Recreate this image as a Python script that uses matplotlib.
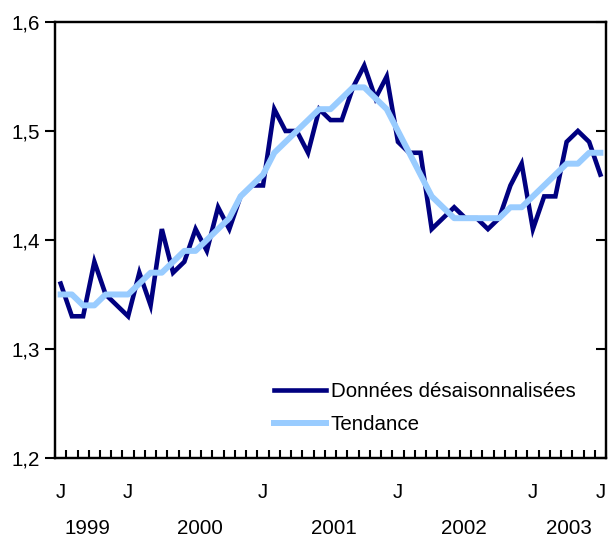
import numpy as np
import matplotlib
matplotlib.use('Agg')
import matplotlib.pyplot as plt
import matplotlib.transforms as mtransforms

plt.rcParams['font.family'] = ['Liberation Sans', 'DejaVu Sans']

# monthly data, 49 months
donnees = [1.36, 1.33, 1.33, 1.38, 1.35, 1.34, 1.33, 1.37, 1.34, 1.41,
           1.37, 1.38, 1.41, 1.39, 1.43, 1.41, 1.44, 1.45, 1.45, 1.52,
           1.50, 1.50, 1.48, 1.52, 1.51, 1.51, 1.54, 1.56, 1.53, 1.55,
           1.49, 1.48, 1.48, 1.41, 1.42, 1.43, 1.42, 1.42, 1.41, 1.42,
           1.45, 1.47, 1.41, 1.44, 1.44, 1.49, 1.50, 1.49, 1.46]
tendance = [1.35, 1.35, 1.34, 1.34, 1.35, 1.35, 1.35, 1.36, 1.37, 1.37,
            1.38, 1.39, 1.39, 1.40, 1.41, 1.42, 1.44, 1.45, 1.46, 1.48,
            1.49, 1.50, 1.51, 1.52, 1.52, 1.53, 1.54, 1.54, 1.53, 1.52,
            1.50, 1.48, 1.46, 1.44, 1.43, 1.42, 1.42, 1.42, 1.42, 1.42,
            1.43, 1.43, 1.44, 1.45, 1.46, 1.47, 1.47, 1.48, 1.48]

month_labels = ['J', 'J', 'J', 'J', 'J', 'J']
month_pos = [0, 6, 18, 30, 42, 48]
year_labels = ['1999', '2000', '2001', '2002', '2003']
year_pos = [2.4, 12.4, 24.3, 35.9, 45.2]

yticks = [1.2, 1.3, 1.4, 1.5, 1.6]
ytick_labels = ['1,2', '1,3', '1,4', '1,5', '1,6']

fs = 14.8
x = np.arange(len(donnees))

fig = plt.figure(figsize=(6.08, 5.40), dpi=100)
ax = fig.add_axes([0.0905, 0.1519, 0.9062, 0.8074])

ax.plot(x, donnees, color='#000080', lw=3.3, label='Données désaisonnalisées',
        solid_joinstyle='miter')
ax.plot(x, tendance, color='#99CCFF', lw=4.3, label='Tendance')

ax.set_xlim(-0.5, len(donnees) - 0.5)
ax.set_ylim(1.2, 1.6)
ax.set_yticks(yticks)
ax.set_yticklabels(ytick_labels, fontsize=fs)
ax.tick_params(axis='y', direction='out', length=7, width=1.5, pad=4)

# month boundary ticks on the bottom axis
ax.set_xticks(np.arange(-0.5, len(donnees), 1))
ax.set_xticklabels([])
ax.tick_params(axis='x', direction='in', length=6, width=1.5)

# right side ticks point inward
ax2 = ax.twinx()
ax2.set_ylim(1.2, 1.6)
ax2.set_yticks(yticks)
ax2.set_yticklabels([])
ax2.tick_params(axis='y', direction='in', length=7, width=1.5)

for a in (ax, ax2):
    for s in a.spines.values():
        s.set_linewidth(1.6)

trans = mtransforms.blended_transform_factory(ax.transData, ax.transAxes)
for lab, p in zip(month_labels, month_pos):
    ax.text(p, -0.080, lab, transform=trans, ha='center', va='center', fontsize=fs)
for lab, p in zip(year_labels, year_pos):
    ax.text(p, -0.161, lab, transform=trans, ha='center', va='center', fontsize=fs)

leg = ax.legend(loc='upper left', bbox_to_anchor=(274 / 608, 1 - 382 / 540),
                bbox_transform=fig.transFigure, frameon=False, fontsize=fs,
                handlelength=2.55, handletextpad=0.2, labelspacing=0.7,
                borderpad=0, borderaxespad=0)

fig.savefig('out.png', dpi=100)
